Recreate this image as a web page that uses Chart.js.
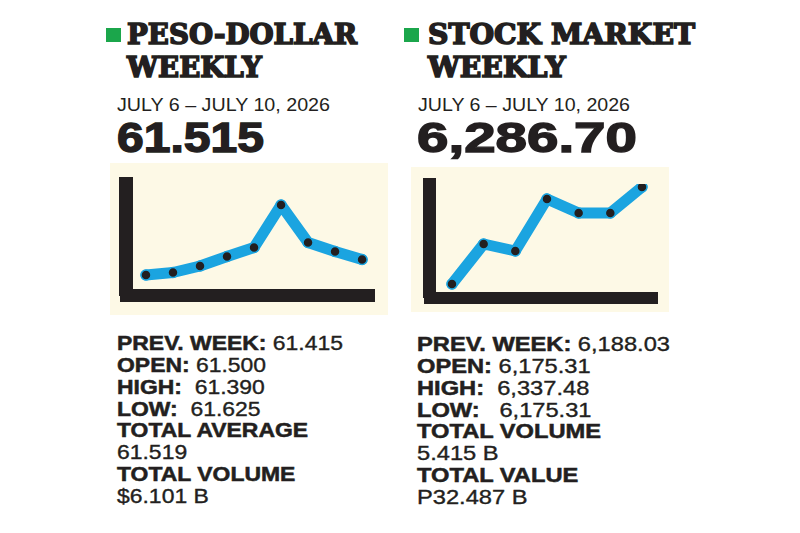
<!DOCTYPE html>
<html>
<head>
<meta charset="utf-8">
<script src="https://cdn.jsdelivr.net/npm/chart.js@4.4.1/dist/chart.umd.min.js"></script>
<style>
  html, body { margin: 0; padding: 0; background: #fff; }
  #page { position: relative; width: 800px; height: 533px; overflow: hidden; color: #231f20; }
  .t { position: absolute; white-space: pre; transform-origin: 0 0; }
  .title { font-family: "DejaVu Serif", serif; font-weight: 700; font-size: 28px; line-height: 32.6px;
           -webkit-text-stroke: 1.6px #231f20; }
  .date { font-family: "Liberation Sans", Arial, sans-serif; font-weight: 400; font-size: 19px; line-height: 1; }
  .big { font-family: "Liberation Sans", Arial, sans-serif; font-weight: 700; font-size: 42px; line-height: 1;
         -webkit-text-stroke: 1.4px #231f20; }
  .stat { font-family: "Liberation Sans", Arial, sans-serif; font-weight: 400; font-size: 19.5px; line-height: 21.8px;
          -webkit-text-stroke: 0.35px #231f20; }
  .stat b { font-weight: 700; -webkit-text-stroke: 0.5px #231f20; }
  .sq { position: absolute; width: 15px; height: 14px; background: #1ba64b; }
  .box { position: absolute; background: #fdf9e6; }
</style>
</head>
<body>
<div id="page">
  <div class="sq" style="left:106px; top:28px;"></div>
  <div class="t title" data-w="230" style="left:127px; top:19px;">PESO-DOLLAR<br>WEEKLY</div>
  <div class="t date" data-w="213" style="left:117px; top:94.5px;">JULY 6 – JULY 10, 2026</div>
  <div class="t big" data-w="147" style="left:117px; top:116.5px;">61.515</div>
  <div class="box" style="left:110px; top:163px; width:278px; height:152px;"><canvas id="pesoChart" width="278" height="152"></canvas></div>
  <div id="pesoStats" class="t stat" data-w="226" style="left:117px; top:333.3px;"></div>

  <div class="sq" style="left:404px; top:28px;"></div>
  <div class="t title" data-w="267" style="left:428px; top:19px;">STOCK MARKET<br>WEEKLY</div>
  <div class="t date" data-w="212" style="left:418px; top:94.5px;">JULY 6 – JULY 10, 2026</div>
  <div class="t big" data-w="220" style="left:417px; top:116.5px;">6,286.70</div>
  <div class="box" style="left:411px; top:167px; width:258px; height:145px;"><canvas id="stockChart" width="258" height="145"></canvas></div>
  <div id="stockStats" class="t stat" data-w="253" style="left:417px; top:334.3px;"></div>
</div>
<script>
// peso-dollar weekly trend (relative height of each point)
const pesoDays = ['1', '2', '3', '4', '5', '6', '7', '8', '9'];
const pesoValues = [20.5, 23, 29.5, 39, 48, 90.5, 53, 44, 36];

// stock market weekly trend
const stockDays = ['1', '2', '3', '4', '5', '6', '7'];
const stockValues = [13.5, 53.5, 46.5, 98.5, 84.5, 84.5, 110.5];

// stats under each chart: [label, value]
const pesoStats = [
    ['PREV. WEEK:', ' 61.415'],
    ['OPEN:', ' 61.500'],
    ['HIGH:', '  61.390'],
    ['LOW:', '  61.625'],
    ['TOTAL AVERAGE', ''],
    ['', '61.519'],
    ['TOTAL VOLUME', ''],
    ['', '$6.101 B']
];

const stockStats = [
    ['PREV. WEEK:', ' 6,188.03'],
    ['OPEN:', ' 6,175.31'],
    ['HIGH:', '  6,337.48'],
    ['LOW:', '   6,175.31'],
    ['TOTAL VOLUME', ''],
    ['', '5.415 B'],
    ['TOTAL VALUE', ''],
    ['', 'P32.487 B']
];

const ink = '#231f20';
const blue = '#1ba4e0';

function fillStats(id, stats) {
    document.getElementById(id).innerHTML = stats
        .map(s => (s[0] ? '<b>' + s[0] + '</b>' : '') + s[1])
        .join('<br>');
}

// squeeze/stretch each text block so its widest line matches the print
function fitWidths() {
    document.querySelectorAll('[data-w]').forEach(el => {
        const w = el.getBoundingClientRect().width;
        el.style.transform = `scaleX(${el.dataset.w / w})`;
    });
}

// small line chart drawn on top of thick black L-shaped axes
function drawTrend(id, days, values, opts) {
    const ctx = document.getElementById(id).getContext('2d');
    return new Chart(ctx, {
        type: 'line',
        data: {
            datasets: [{
                data: values.map((v, i) => ({ x: i, y: v })),
                borderColor: blue,
                borderWidth: 11,
                borderJoinStyle: 'round',
                borderCapStyle: 'round',
                pointRadius: 5,
                pointBackgroundColor: ink,
                pointBorderColor: blue,
                pointBorderWidth: 1.5,
                tension: 0
            }]
        },
        options: {
            responsive: false,
            animation: false,
            devicePixelRatio: 1,
            layout: { padding: opts.padding },
            plugins: { legend: { display: false }, tooltip: { enabled: false } },
            scales: {
                x: {
                    type: 'linear',
                    min: opts.xMin,
                    max: opts.xMax,
                    grid: { display: false, drawTicks: false },
                    ticks: { display: false },
                    border: { display: true, color: ink, width: opts.xBorder }
                },
                y: {
                    min: 0,
                    max: opts.yMax,
                    grid: { display: false, drawTicks: false },
                    ticks: { display: false },
                    border: { display: true, color: ink, width: opts.yBorder }
                }
            }
        }
    });
}

drawTrend('pesoChart', pesoDays, pesoValues, {
    padding: { left: 16, top: 21, right: 13.5, bottom: 19.5 },
    xMin: -0.74, xMax: 8.46, yMax: 111.5, xBorder: 13, yBorder: 14
});
drawTrend('stockChart', stockDays, stockValues, {
    padding: { left: 18.5, top: 17, right: 11.5, bottom: 14.5 },
    xMin: -0.71, xMax: 6.49, yMax: 113.5, xBorder: 12, yBorder: 13
});

fillStats('pesoStats', pesoStats);
fillStats('stockStats', stockStats);
fitWidths();
</script>
</body>
</html>
